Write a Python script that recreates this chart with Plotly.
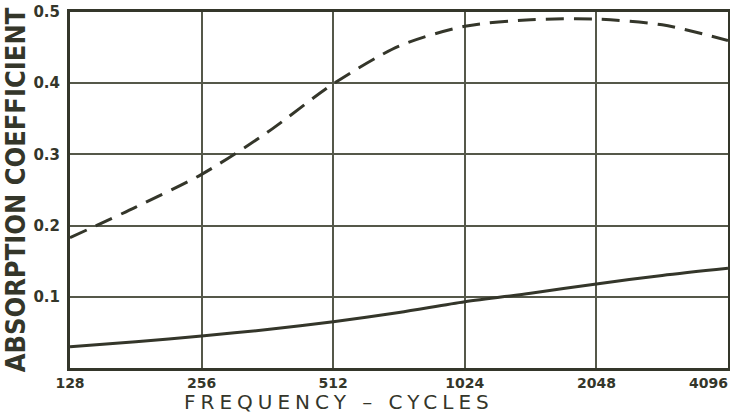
import plotly.graph_objects as go

# frequencies (cycles) at octave and half-octave points
freq = [128, 181, 256, 362, 512, 724, 1024, 1448, 2048, 2896, 4096]

# absorption coefficients
dashed_curve = [0.183, 0.226, 0.272, 0.331, 0.399, 0.452, 0.48, 0.489, 0.49, 0.482, 0.46]
solid_curve = [0.03, 0.037, 0.045, 0.054, 0.065, 0.078, 0.093, 0.105, 0.118, 0.13, 0.14]

x_ticks = [128, 256, 512, 1024, 2048, 4096]
x_labels = ["128", "256", "512", "1024", "2048", "4096\u2007\u2007\u2007\u2007"]
y_ticks = [0.1, 0.2, 0.3, 0.4, 0.5]

ink = "#34362a"
grid_ink = "#55584a"

fig = go.Figure()

fig.add_trace(go.Scatter(
    x=freq, y=dashed_curve, mode="lines",
    line=dict(color=ink, width=3, dash="18px,10px", shape="spline", smoothing=0.8),
    showlegend=False,
))
fig.add_trace(go.Scatter(
    x=freq, y=solid_curve, mode="lines",
    line=dict(color=ink, width=3, shape="spline", smoothing=0.8),
    showlegend=False,
))

fig.update_layout(
    width=730, height=413,
    margin=dict(l=70, r=2, t=12, b=45),
    paper_bgcolor="white", plot_bgcolor="white",
    font=dict(family="DejaVu Sans", color=ink),
    xaxis=dict(
        type="log",
        range=[2.10721, 3.61236],
        tickvals=x_ticks, ticktext=x_labels,
        tickfont=dict(size=14, weight="bold"),
        ticklabeloverflow="allow",
        showgrid=True, gridcolor=grid_ink, gridwidth=2,
        showline=True, linecolor=ink, linewidth=3, mirror=True,
        ticks="", zeroline=False, automargin=False,
    ),
    yaxis=dict(
        range=[0, 0.5],
        tickvals=y_ticks, ticktext=[f"{v:.1f}" for v in y_ticks],
        tickfont=dict(size=15, weight="bold"),
        ticklabelstandoff=4,
        showgrid=True, gridcolor=grid_ink, gridwidth=2,
        showline=True, linecolor=ink, linewidth=3, mirror=True,
        ticks="", zeroline=False, automargin=False,
        title=dict(text="ABSORPTION COEFFICIENT",
                   font=dict(size=27, weight="bold",
                             family="Liberation Sans Narrow, DejaVu Sans Condensed")),
    ),
)

# x-axis title sits left of centre in the original
fig.add_annotation(
    text="FREQUENCY \u2013 CYCLES",
    xref="paper", yref="paper", x=0.409, y=-0.095,
    xanchor="center", yanchor="middle", showarrow=False,
    font=dict(size=20, family="DejaVu Sans", color=ink),
)

# drop the default page margin so the 730x413 figure fills the window,
# and widen the lettering of the x-axis title
post = (
    "document.body.style.margin='0';"
    "document.querySelectorAll('.annotation-text').forEach(function(t){"
    "t.style.letterSpacing='5px';});"
)
fig.write_html("out.html", post_script=post, config={"displayModeBar": False})
